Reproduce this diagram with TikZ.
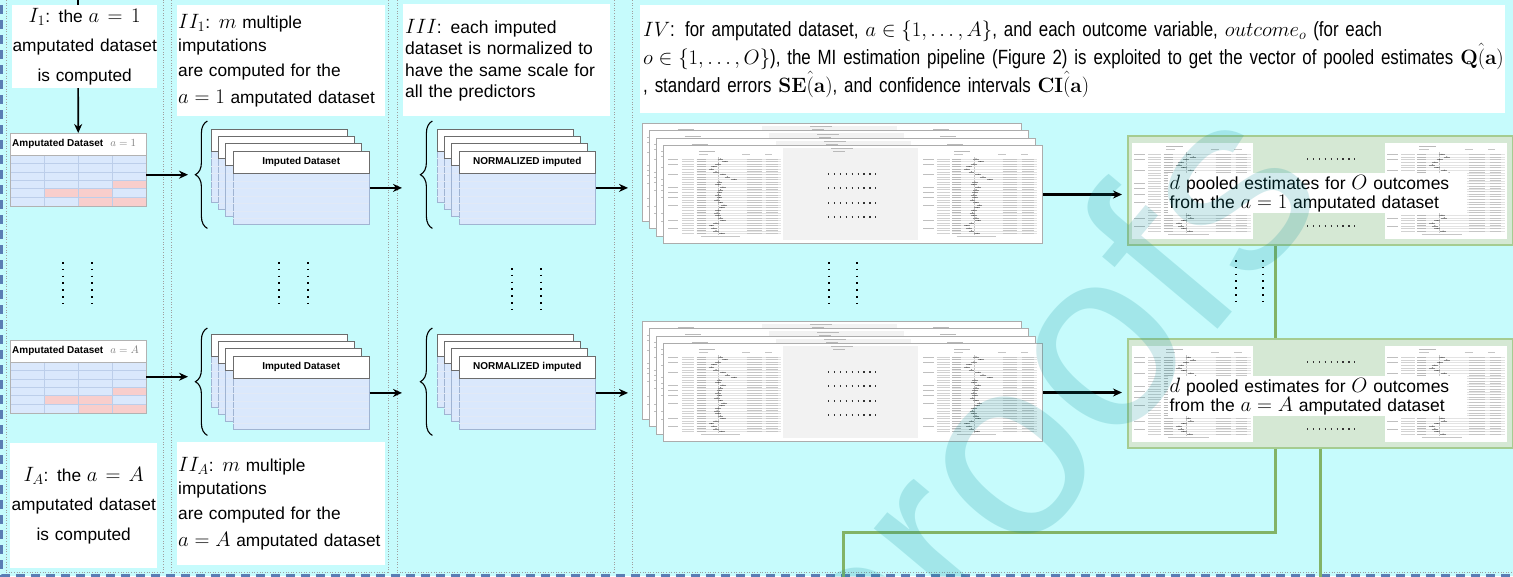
\documentclass[tikz,border=0pt]{standalone}
\usepackage[no-math]{fontspec}
\setmainfont{Liberation Sans}
\newfontfamily\narrowsans[FakeStretch=0.82]{Liberation Sans}
\usetikzlibrary{arrows.meta,decorations.pathreplacing}

\definecolor{bgcyan}{RGB}{198,251,252}
\definecolor{cellblue}{RGB}{218,232,252}
\definecolor{cellline}{RGB}{188,206,234}
\definecolor{cardedge}{RGB}{160,180,210}
\definecolor{cellred}{RGB}{248,206,204}
\definecolor{frameblue}{RGB}{90,125,180}
\definecolor{poolfill}{RGB}{213,232,212}
\definecolor{pooldraw}{RGB}{165,204,145}
\definecolor{linkgreen}{RGB}{130,179,102}
\definecolor{plotgray}{RGB}{242,242,242}
\definecolor{wmark}{RGB}{0,140,150}

% math set a little larger than the surrounding sans text
\newcommand\mth[1]{{\fontsize{21}{21}\selectfont$#1$}}
% math inside the stage IV description
\newcommand\mq[1]{{\fontsize{20.5}{20.5}\selectfont$#1$}}

\tikzset{
  txtbox/.style={fill=white,draw=none,inner sep=2pt,anchor=north west},
  arr/.style={draw=black,line width=1.7pt,-{Stealth[length=9pt,width=8pt]}},
  colframe/.style={draw=gray!75,line width=0.7pt,dash pattern=on 1pt off 1.6pt},
  outerframe/.style={draw=frameblue,line width=3pt,dash pattern=on 9pt off 6pt},
  vdots/.style={draw=black,line width=1.6pt,dash pattern=on 1.6pt off 5.2pt},
  hdots/.style={draw=black!80,line width=1.2pt,dash pattern=on 1.2pt off 4.7pt},
  glink/.style={draw=linkgreen,line width=3pt},
  hdrfont/.style={font=\bfseries\fontsize{10}{12}\selectfont}
}

% miniature forest plot, drawn in a 100x100 box
\newcommand\fplot[3]{%
  \begin{scope}[shift={#1},xscale=#2,yscale=#3]
    \draw[gray!55,line width=0.5pt] (28,2.5) -- (42,2.5);
    \draw[gray!45,line width=0.4pt] (28,6) -- (36,6) (66,6) -- (73,6) (86,6) -- (92,6);
    \draw[gray!45,line width=0.3pt] (45,9) -- (45,96);
    \draw[gray!45,line width=0.3pt] (30,97) -- (64,97);
    \foreach \i/\o in {0/2,1/6,2/0,3/-4,4/-6,5/-2,6/4,7/8,8/14,9/1,10/0,11/4,12/2,13/1,14/0,15/1,16/-1,17/2,18/5,19/3,20/0,21/-1,22/0,23/2,24/4,25/-2,26/-6,27/-4,28/-2,29/3}{%
      \pgfmathsetmacro\yy{11+\i*2.85}
      \draw[gray!22,line width=0.3pt] (26,\yy) -- (100,\yy);
      \draw[gray!55,line width=0.6pt] (26,\yy) -- (34,\yy);
      \draw[gray!35,line width=0.45pt] (13,\yy) -- (24,\yy);
      \draw[gray!45,line width=0.6pt] (70,\yy) -- (83,\yy) (87,\yy) -- (97,\yy);
      \draw[black!45,line width=0.35pt] ({45+\o-2.5},\yy) -- ({45+\o+2.5},\yy);
      \fill[black!70] ({45+\o},\yy) circle (0.5pt);
    }
    \foreach \i in {0,2,6,11,13,15,18,24,27}{%
      \draw[gray!50,line width=0.5pt] (1,{11+\i*2.85}) -- (10,{11+\i*2.85});
    }
  \end{scope}}

% one forest-plot sheet
\newcommand\fcard[3]{%
  \pgfmathsetmacro\fx{#2}\pgfmathsetmacro\fy{#3}
  \begin{scope}[shift={(\fx,\fy)}]
    \node[draw=gray!65,line width=1pt,fill=white,minimum width=379pt,minimum height=98pt,
          anchor=north west,inner sep=0pt] (#1) at (0,0) {};
    \fill[plotgray] (120,3) rectangle (255,95);
    \draw[gray!55,line width=0.5pt] (168,3.5) -- (190,3.5) (170,6.5) -- (182,6.5);
    \fplot{(4,4)}{1.14}{0.9}
    \fplot{(259,4)}{1.15}{0.9}
    \foreach \yy in {29,43,58,72} \draw[hdots] (165,\yy) -- (214,\yy);
  \end{scope}}

\newcommand\fstack[3]{%
  \fcard{#1-3}{#2}{#3}
  \fcard{#1-2}{#2+7}{#3+7.3}
  \fcard{#1-1}{#2+14}{#3+14.6}
  \fcard{#1}{#2+21}{#3+22}}

% one dataset sheet with header
\newcommand\dcard[2]{%
  \pgfmathsetmacro\cx{#1}\pgfmathsetmacro\cy{#2}
  \draw[draw=cardedge,fill=cellblue,line width=0.8pt] (\cx,\cy) rectangle ++(136,73);
  \foreach \r in {29.5,37,44.5,52,59.5,67}
    \draw[cellline!45,line width=0.4pt] (\cx,{\cy+\r}) -- ++(136,0);
  \draw[draw=gray!85!black,fill=white,line width=0.8pt] (\cx,\cy) rectangle ++(136,22);}

\newcommand\dstack[4]{%
  \foreach \k in {0,1,2} {\dcard{#2+\k*7.4}{#3+\k*7.4}}
  \dcard{#2+22.2}{#3+22.2}
  \node[minimum width=136pt,minimum height=73pt,anchor=north west,inner sep=0pt]
       (#1) at ({#2+22.2},{#3+22.2}) {};
  \node[hdrfont,inner sep=0pt] (#1-h) at ({#2+90.2},{#3+33.2}) {#4};}

% left curly brace in front of a stack
\newcommand\setbrace[3]{%
  \node[minimum width=14pt,minimum height=107pt,anchor=north west,inner sep=0pt] (#1) at (#2,#3) {};
  \draw[decorate,decoration={brace,amplitude=12pt,aspect=0.5},line width=1.1pt]
       (#1.south east) -- (#1.north east);}

% amputated table with missing cells
\newcommand\amptable[4]{%
  \begin{scope}[shift={(#2,#3)}]
    \node[fill=cellblue,minimum width=136pt,minimum height=73pt,anchor=north west,inner sep=0pt] (#1) at (0,0) {};
    \fill[cellred] (102,47) rectangle (136,55.5);
    \fill[cellred] (34,55.5) rectangle (102,64);
    \fill[cellred] (68,64) rectangle (136,73);
    \foreach \yy in {30.5,39,47,55.5,64} \draw[cellline,line width=0.6pt] (0,\yy) -- (136,\yy);
    \foreach \xx in {34,68,102} \draw[cellline,line width=0.6pt] (\xx,22) -- (\xx,73);
    \draw[gray!60,fill=white,line width=0.8pt] (0,0) rectangle (136,22);
    \draw[gray!60,line width=0.8pt] (0,0) rectangle (136,73);
    \node[hdrfont,anchor=west,inner sep=0pt] (#1-h) at (2,11)
         {Amputated Dataset\hspace{7pt}\textcolor{gray}{\fontsize{11}{12}\selectfont$#4$}};
  \end{scope}}

% green box of pooled estimates
\newcommand\poolbox[4]{%
  \node[draw=pooldraw,line width=1.6pt,fill=poolfill,minimum width=385pt,minimum height=109pt,
        anchor=north west,inner sep=0pt] (#1) at (#2,#3) {};
  \begin{scope}[shift={(#2,#3)}]
    \fill[white] (5,8) rectangle (126,104);
    \fill[white] (258,8) rectangle (380,104);
    \fplot{(6,9)}{1.18}{0.93}
    \fplot{(259,9)}{1.19}{0.93}
    \draw[hdots] (180,24) -- (231,24);
    \draw[hdots] (180,91) -- (231,91);
    \node[fill=white,inner sep=1.5pt,anchor=north west,text width=296pt,align=left,
          font=\fontsize{17.5}{19}\selectfont] (#1-t) at (41,38)
         {\mth{d} pooled estimates for \mth{O} outcomes\\from the \mth{#4} amputated dataset};
  \end{scope}}

\begin{document}
\begin{tikzpicture}[x=1pt,y=-1pt]
\useasboundingbox (0,0) rectangle (1513,576);
\clip (0,0) rectangle (1513,576);
\fill[bgcyan] (0,0) rectangle (1513,576);

% stage frames
\draw[colframe] (6,-5) rectangle (163,572);
\draw[colframe] (171,-5) rectangle (388,572);
\draw[colframe] (397,-5) rectangle (614,572);
\draw[colframe] (632,-5) rectangle (1530,572);
\draw[outerframe] (1.5,-10) -- (1.5,575.5) -- (1530,575.5);

% tables of stage I
\amptable{tab1}{10}{133}{a=1}
\amptable{tabA}{10}{340}{a=A}
\coordinate (topin) at (78,-10);
\draw[arr] (topin) -- (tab1.north);

% stage descriptions
\node[txtbox,inner sep=0pt,minimum width=145pt,minimum height=83pt,text width=145pt,align=center,
      font=\fontsize{17.3}{29.5}\selectfont] (t1) at (12,5)
     {\mth{I_1}: the \mth{a=1}\\amputated dataset\\is computed};
\node[txtbox,inner sep=0pt,minimum width=147pt,minimum height=125pt,text width=147pt,align=center,
      font=\fontsize{17.3}{29.5}\selectfont] (tA) at (10,443)
     {\mth{I_A}: the \mth{a=A}\\amputated dataset\\is computed};
\node[txtbox,inner sep=1pt,minimum width=208pt,minimum height=111pt,text width=206pt,align=left,
      font=\fontsize{17.3}{23}\selectfont] (t2) at (177,5)
     {\mth{II_1}: \mth{m} multiple\\imputations\\[2pt]are computed for the\\[4pt]\mth{a=1} amputated dataset};
\node[txtbox,inner sep=1pt,minimum width=208pt,minimum height=123pt,text width=206pt,align=left,
      font=\fontsize{17.3}{23}\selectfont] (t2A) at (177,442)
     {\mth{II_A}: \mth{m} multiple\\imputations\\[2pt]are computed for the\\[4pt]\mbox{\mth{a=A} amputated dataset}};
\node[txtbox,minimum width=207pt,minimum height=112pt,text width=203pt,align=left,
      font=\fontsize{17.5}{21.5}\selectfont] (t3) at (403,4)
     {\mth{III}: each imputed\\dataset is normalized to\\have the same scale for\\all the predictors};
\node[txtbox,minimum width=865pt,minimum height=108pt,text width=859pt,align=left,
      font=\narrowsans\fontsize{20.6}{28}\selectfont] (t4) at (640,5)
     {\mbox{\mq{IV}: for amputated dataset, \mq{a\in\{1,\ldots,A\}}, and each outcome variable, \mq{outcome_o} (for each}\\
      \mbox{\mq{o\in\{1,\ldots,O\}}), the MI estimation pipeline (Figure 2) is exploited to get the vector of pooled estimates \mq{\mathbf{Q}\hat{(}\mathbf{a})}}\\
      \mbox{, standard errors \mq{\mathbf{SE}\hat{(}\mathbf{a})}, and confidence intervals \mq{\mathbf{CI}\hat{(}\mathbf{a})}}};

% stage II and III stacks
\setbrace{br1}{193}{121}
\setbrace{brA}{193}{328}
\setbrace{nbr1}{418}{121}
\setbrace{nbrA}{418}{328}
\dstack{imp1}{211}{129}{Imputed Dataset}
\dstack{impA}{211}{334}{Imputed Dataset}
\dstack{nrm1}{437}{129}{NORMALIZED imputed}
\dstack{nrmA}{437}{334}{NORMALIZED imputed}

% stage IV sheets and pooled results
\fstack{fs1}{642}{123}
\fstack{fsA}{642}{321}
\poolbox{pool1}{1127}{135}{a=1}
\poolbox{poolA}{1127}{338}{a=A}

% flow arrows
\draw[arr,shorten >=5pt] (tab1.east |- br1.west) -- (br1.west);
\draw[arr,shorten >=5pt] (tabA.east) -- (brA.west |- tabA.east);
\draw[arr,shorten >=16pt] (imp1.east) -- (nbr1.west |- imp1.east);
\draw[arr,shorten >=16pt] (impA.east) -- (nbrA.west |- impA.east);
\draw[arr,shorten >=14pt] (nrm1.east) -- (fs1-3.west |- nrm1.east);
\draw[arr,shorten >=14pt] (nrmA.east) -- (fsA-3.west |- nrmA.east);
\draw[arr,line width=2.3pt,shorten >=5pt] (fs1.east) -- (pool1.west |- fs1.east);
\draw[arr,line width=2.3pt,shorten >=5pt] (fsA.east) -- (poolA.west |- fsA.east);

% links out of the pooled results
\coordinate (gx) at (1275,0);
\coordinate (gturn) at (843,532);
\coordinate (gend) at (843,585);
\draw[glink] (pool1.south -| gx) -- (poolA.north -| gx);
\draw[glink] (poolA.south -| gx) |- (gturn) -- (gend);
\draw[glink] (poolA.south) -- (poolA.south |- gend);

% vertical ellipses between the a=1 and a=A rows
\foreach \xa/\ya in {63/262,92/262,279/262,308/262,512/268,541/268,829/262,857/262,1236/260,1263/260}
  \draw[vdots] (\xa,\ya) -- (\xa,{\ya+44});

% watermark
\node[rotate=50,font=\fontsize{255}{255}\selectfont,text=wmark,opacity=0.18,inner sep=0pt] (wm) at (980,510) {e-proofs};
\end{tikzpicture}
\end{document}
